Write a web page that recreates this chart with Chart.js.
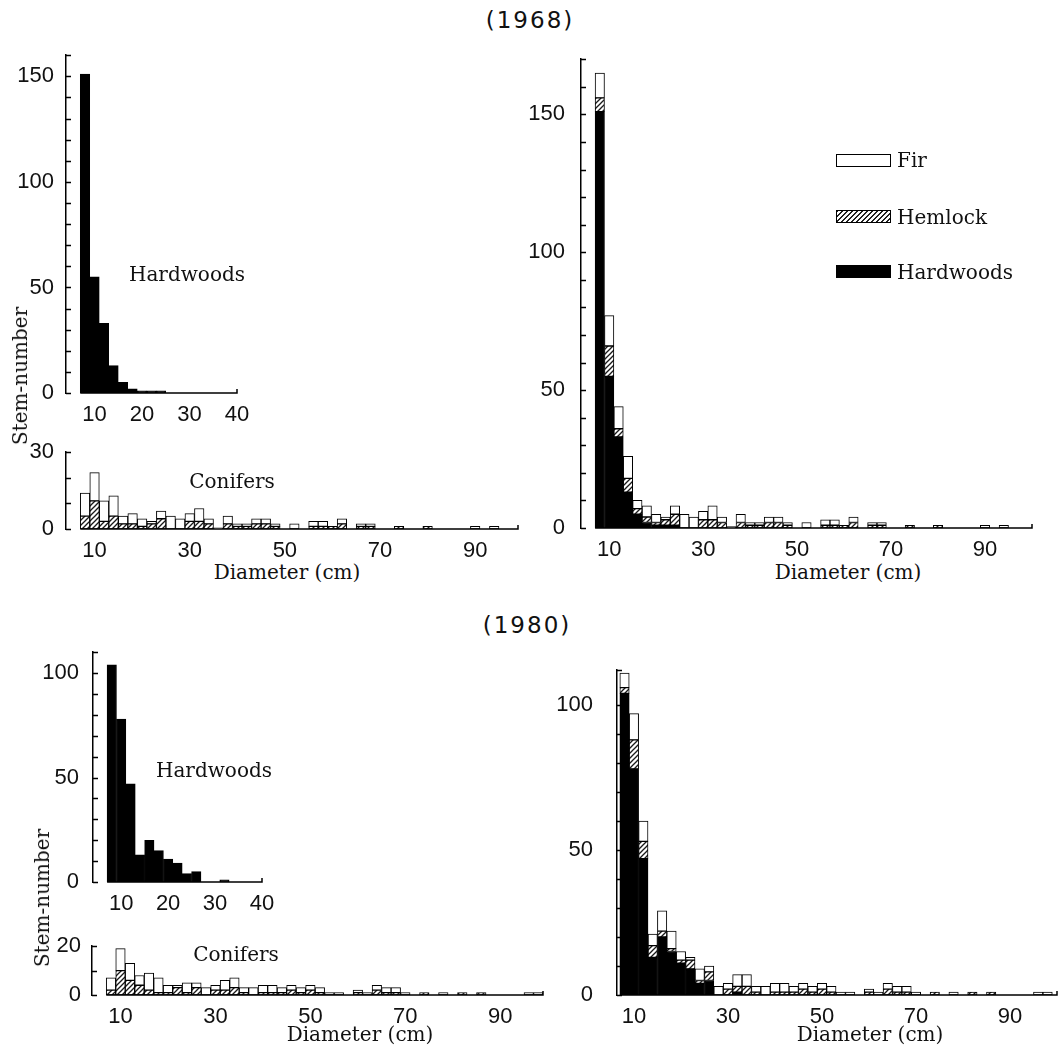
<!DOCTYPE html>
<html>
<head>
<meta charset="utf-8">
<script src="https://cdn.jsdelivr.net/npm/chart.js@4.4.1/dist/chart.umd.min.js"></script>
<style>
  body { margin: 0; background: #fff; width: 1059px; height: 1046px; position: relative; overflow: hidden; }
  canvas { position: absolute; }
  .c { position: absolute; transform: translate(-50%, -50%); white-space: nowrap; color: #111;
       font-family: 'DejaVu Serif', serif; font-size: 20px; }
  .title { font-family: 'DejaVu Sans', sans-serif; font-size: 23px; letter-spacing: 2px; }
  .rot { transform: translate(-50%, -50%) rotate(-90deg); font-size: 20px; }
  .key { position: absolute; width: 53px; height: 11px; border: 1px solid #000; }
  .keytxt { position: absolute; font-family: 'DejaVu Serif', serif; font-size: 20px; color: #111; transform: translateY(-50%); }
</style>
</head>
<body>
<canvas id="hw68"></canvas>
<canvas id="con68"></canvas>
<canvas id="all68"></canvas>
<canvas id="hw80"></canvas>
<canvas id="con80"></canvas>
<canvas id="all80"></canvas>

<div class="c title" style="left:530px; top:20px">(1968)</div>
<div class="c title" style="left:527px; top:625px">(1980)</div>

<div class="c" style="left:187px; top:274px">Hardwoods</div>
<div class="c" style="left:232px; top:481px">Conifers</div>
<div class="c rot" style="left:20px; top:376px">Stem-number</div>
<div class="c" style="left:287px; top:572px">Diameter (cm)</div>
<div class="c" style="left:848px; top:572px">Diameter (cm)</div>

<div class="key" style="left:836px; top:154px; background:#fff"></div>
<div class="keytxt" style="left:897px; top:160px">Fir</div>
<div class="key" style="left:836px; top:210px; background:repeating-linear-gradient(-45deg,#fff 0,#fff 2px,#222 2px,#222 3.5px)"></div>
<div class="keytxt" style="left:897px; top:217px">Hemlock</div>
<div class="key" style="left:836px; top:265px; background:#000"></div>
<div class="keytxt" style="left:897px; top:272px">Hardwoods</div>

<div class="c" style="left:214px; top:770px">Hardwoods</div>
<div class="c" style="left:236px; top:954px">Conifers</div>
<div class="c rot" style="left:42px; top:898px">Stem-number</div>
<div class="c" style="left:360px; top:1034px">Diameter (cm)</div>
<div class="c" style="left:870px; top:1034px">Diameter (cm)</div>

<script>
// diameter classes (cm), 2 cm steps
const classes = [8, 10, 12, 14, 16, 18, 20, 22, 24, 26, 28, 30, 32, 34, 36, 38, 40, 42, 44, 46,
  48, 50, 52, 54, 56, 58, 60, 62, 64, 66, 68, 70, 72, 74, 76, 78, 80, 82, 84, 86, 88, 90, 92, 94, 96, 98];

// 1968 stem numbers per class
const hardwoods1968 = [151, 55, 33, 13, 5, 2, 1, 1, 1, 0, 0, 0, 0, 0, 0, 0, 0, 0, 0, 0,
  0, 0, 0, 0, 0, 0, 0, 0, 0, 0, 0, 0, 0, 0, 0, 0, 0, 0, 0, 0, 0, 0, 0, 0, 0, 0];
const hemlock1968 = [5, 11, 3, 5, 2, 2, 1, 2, 4, 0, 0, 3, 3, 2, 0, 2, 1, 1, 2, 2,
  1, 0, 0, 0, 1, 1, 1, 2, 0, 1, 1, 0, 0, 1, 0, 0, 1, 0, 0, 0, 0, 0, 0, 0, 0, 0];
const fir1968 = [9, 11, 8, 8, 3, 4, 3, 1, 3, 5, 4, 3, 5, 2, 0.5, 3, 1, 1, 2, 2,
  1, 0, 2, 0, 2, 2, 0, 2, 0, 1, 1, 0, 0, 0, 0, 0, 0, 0, 0, 0, 0, 1, 0, 1, 0, 0];

// 1980 stem numbers per class
const hardwoods1980 = [104, 78, 47, 13, 20, 15, 11, 9, 4, 5, 0, 0, 1, 0, 0, 0, 0, 0, 0, 0,
  0, 0, 0, 0, 0, 0, 0, 0, 0, 0, 0, 0, 0, 0, 0, 0, 0, 0, 0, 0, 0, 0, 0, 0, 0, 0];
const hemlock1980 = [2, 10, 6, 4, 2, 1, 1, 3, 1, 3, 0, 2, 2, 3, 1, 0, 1, 1, 1, 2,
  1, 2, 1, 0, 0, 0, 1, 0, 2, 1, 1, 0, 0, 1, 0, 0, 0, 1, 0, 1, 0, 0, 0, 0, 0, 0];
const fir1980 = [5, 9, 7, 4, 7, 6, 3, 1, 4, 2, 3, 2, 4, 4, 2, 3, 3, 3, 2, 2,
  2, 2, 2, 1, 1, 0, 1, 1, 2, 2, 2, 1, 0, 0, 0, 1, 0, 0, 0, 0, 0, 0, 0, 0, 1, 1];

// tick labels
const smallXTicks = [10, 20, 30, 40];
const wideXTicks = [10, 30, 50, 70, 90];

function hatchPattern() {
  const t = document.createElement('canvas');
  t.width = 5; t.height = 5;
  const g = t.getContext('2d');
  g.fillStyle = '#fff';
  g.fillRect(0, 0, 5, 5);
  g.strokeStyle = '#1a1a1a';
  g.lineWidth = 1.3;
  g.beginPath();
  g.moveTo(0, 5); g.lineTo(5, 0);
  g.moveTo(-1, 1); g.lineTo(1, -1);
  g.moveTo(4, 6); g.lineTo(6, 4);
  g.stroke();
  return g.createPattern(t, 'repeat');
}
const hatch = hatchPattern();

function pts(vals) {
  return classes.map((c, i) => ({ x: c, y: vals[i] ? vals[i] : null }));
}
function ds(label, vals, fill) {
  return {
    label, data: pts(vals), backgroundColor: fill,
    borderColor: '#000', borderWidth: 1, borderSkipped: false,
    barPercentage: 1, categoryPercentage: 1
  };
}

// baseline starts at the first bar, inward ticks on the y axis
const axisLines = {
  id: 'axisLines',
  afterDraw(chart, args, opts) {
    const { ctx, chartArea: a, scales: { x, y } } = chart;
    const y0 = y.getPixelForValue(0);
    ctx.save();
    ctx.strokeStyle = '#000';
    ctx.lineWidth = 1.5;
    ctx.beginPath();
    ctx.moveTo(x.getPixelForValue(opts.from), y0);
    ctx.lineTo(a.right, y0);
    ctx.lineTo(a.right, y0 - 4);
    y.ticks.forEach(t => {
      const py = Math.round(y.getPixelForValue(t.value)) + 0.5;
      ctx.moveTo(a.left, py);
      ctx.lineTo(a.left + 5, py);
    });
    ctx.stroke();
    ctx.restore();
  }
};

const Y_W = 70, PAD_T = 14, PAD_R = 18, X_H = 30;
const tickFont = { family: "'Liberation Sans Narrow', 'Liberation Sans', sans-serif", size: 22 };

function panel(id, area, yMax, yLabels, xMin, xMax, xTicks, yPad, sets) {
  const cv = document.getElementById(id);
  const w = area.r - area.l + Y_W + PAD_R;
  const h = area.b - area.t + PAD_T + X_H;
  cv.width = w; cv.height = h;
  cv.style.left = (area.l - Y_W) + 'px';
  cv.style.top = (area.t - PAD_T) + 'px';
  cv.style.width = w + 'px';
  cv.style.height = h + 'px';
  new Chart(cv, {
    type: 'bar',
    data: { datasets: sets },
    options: {
      responsive: false,
      animation: false,
      devicePixelRatio: 1,
      layout: { padding: { top: PAD_T, right: PAD_R, left: 0, bottom: 0 } },
      plugins: { legend: { display: false }, tooltip: { enabled: false }, axisLines: { from: 7 } },
      scales: {
        x: {
          type: 'linear', min: xMin, max: xMax, offset: false, stacked: true,
          grid: { display: false }, border: { display: false },
          ticks: { font: tickFont, color: '#111', padding: 1, autoSkip: false, maxRotation: 0 },
          afterBuildTicks: s => { s.ticks = xTicks.map(v => ({ value: v })); },
          afterFit: s => { s.height = X_H; }
        },
        y: {
          min: 0, max: yMax, stacked: true,
          grid: { display: false },
          border: { display: true, color: '#000', width: 1.5 },
          ticks: {
            stepSize: 10, autoSkip: false, font: tickFont, color: '#111', padding: yPad,
            callback: v => yLabels.includes(v) ? v : ''
          },
          afterFit: s => { s.width = Y_W; }
        }
      }
    },
    plugins: [axisLines]
  });
}

panel('hw68', { l: 66, r: 237, t: 52, b: 393 }, 160, [0, 50, 100, 150], 4, 40, smallXTicks, 4,
  [ds('Hardwoods', hardwoods1968, '#000')]);
panel('con68', { l: 66, r: 518, t: 449, b: 529 }, 30, [0, 30], 4, 99, wideXTicks, 4,
  [ds('Hemlock', hemlock1968, hatch), ds('Fir', fir1968, '#fff')]);
panel('all68', { l: 581, r: 1032, t: 52, b: 528 }, 170, [0, 50, 100, 150], 4, 100, wideXTicks, 8,
  [ds('Hardwoods', hardwoods1968, '#000'), ds('Hemlock', hemlock1968, hatch), ds('Fir', fir1968, '#fff')]);

panel('hw80', { l: 93, r: 262, t: 647, b: 882 }, 110, [0, 50, 100], 4, 40, smallXTicks, 6,
  [ds('Hardwoods', hardwoods1980, '#000')]);
panel('con80', { l: 92, r: 543, t: 944, b: 995 }, 20, [0, 20], 4, 99, wideXTicks, 3,
  [ds('Hemlock', hemlock1980, hatch), ds('Fir', fir1980, '#fff')]);
panel('all80', { l: 617, r: 1057, t: 655, b: 995 }, 112, [0, 50, 100], 6.4, 100, wideXTicks, 16,
  [ds('Hardwoods', hardwoods1980, '#000'), ds('Hemlock', hemlock1980, hatch), ds('Fir', fir1980, '#fff')]);
</script>
</body>
</html>
